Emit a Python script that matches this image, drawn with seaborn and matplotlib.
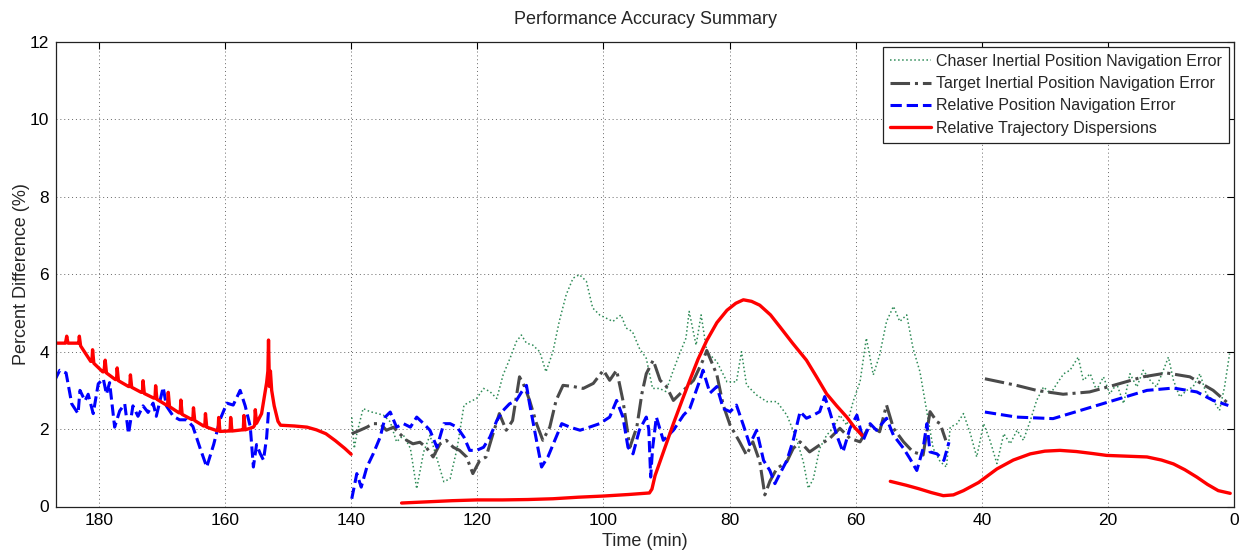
import numpy as np
import pandas as pd
import matplotlib
matplotlib.use("Agg")
import matplotlib.pyplot as plt
from matplotlib.lines import Line2D
import seaborn as sns

# ---------------- data ----------------
series_names = [
    "Chaser Inertial Position Navigation Error",
    "Target Inertial Position Navigation Error",
    "Relative Position Navigation Error",
    "Relative Trajectory Dispersions",
]

# Chaser inertial (green dotted), one segment 140 -> 0
chaser_t = [139.9, 139.5, 139.1, 138.1, 137.0, 136.0, 134.9, 133.8, 132.8, 131.7, 130.6, 129.6, 128.5,
            127.5, 126.4, 125.3, 124.3, 123.2, 122.1, 121.1, 120.1, 119.0, 118.0, 116.9, 115.9, 114.8,
            113.8, 113.0, 112.2, 111.2, 110.1, 109.1, 108.0, 107.0, 105.9, 104.8, 103.8, 102.7, 101.7,
            100.6, 99.6, 98.5, 97.2, 96.4, 95.4, 94.3, 93.2, 92.2, 91.1, 90.1, 89.0, 88.0, 86.9, 86.4,
            85.3, 84.5, 83.6, 82.0, 80.4, 78.9, 78.1, 77.3, 75.7, 74.1, 72.5, 70.9, 69.4, 68.3, 67.5,
            66.7, 65.7, 64.6, 63.6, 62.5, 61.4, 60.4, 59.3, 58.3, 57.2, 56.2, 55.1, 54.0, 53.0, 51.9,
            50.9, 49.8, 48.8, 47.7, 46.6, 45.6, 45.0, 43.9, 42.9, 41.8, 40.8, 39.7, 38.7, 37.6, 36.5,
            35.5, 34.4, 33.4, 32.3, 31.3, 30.2, 29.1, 28.1, 27.0, 26.0, 24.7, 23.9, 22.8, 21.8, 20.7,
            19.7, 18.6, 17.5, 16.5, 15.4, 14.4, 13.3, 12.3, 11.2, 10.4, 9.6, 8.6, 7.5, 6.5, 5.4, 4.4,
            3.3, 2.3, 1.5, 0.7]
chaser_v = [2.30, 1.50, 1.88, 2.53, 2.45, 2.41, 2.36, 2.19, 1.67, 1.84, 1.50, 0.46, 1.41,
            1.84, 1.24, 0.64, 0.72, 1.50, 2.62, 2.71, 2.79, 3.05, 2.97, 2.79, 3.40, 3.83,
            4.26, 4.43, 4.22, 4.17, 4.00, 3.48, 4.00, 4.78, 5.47, 5.90, 5.99, 5.82, 5.13,
            4.95, 4.87, 4.78, 4.95, 4.61, 4.52, 4.09, 3.83, 3.05, 3.05, 2.97, 3.48, 3.91, 4.35, 5.04,
            4.17, 4.95, 4.00, 3.74, 3.22, 3.22, 4.00, 3.14, 2.88, 2.71, 2.71, 2.36, 1.76, 1.16, 0.47,
            0.72, 1.50, 1.84, 2.02, 2.36, 2.10, 2.71, 3.22, 4.35, 3.40, 3.91, 4.78, 5.17, 4.78, 4.95,
            4.09, 3.48, 2.53, 1.50, 1.16, 1.02, 2.05, 2.14, 2.40, 1.88, 1.28, 2.14, 1.71, 1.11, 1.88,
            1.62, 1.97, 1.71, 2.22, 2.74, 3.09, 2.91, 3.17, 3.43, 3.52, 3.86, 3.26, 3.43, 3.00, 3.35,
            2.91, 3.17, 2.66, 3.43, 3.09, 3.52, 3.26, 3.09, 3.52, 3.86, 3.26, 2.83, 3.00, 3.09, 3.43, 2.91,
            2.74, 2.48, 3.09, 3.95]

# Target inertial (gray dash-dot), two segments
target_t1 = [139.9, 138.6, 137.5, 136.5, 135.4, 134.4, 133.3, 132.3, 131.2, 130.2, 129.1, 128.1, 127.0,
             125.9, 124.9, 123.8, 122.8, 121.7, 120.7, 119.6, 118.6, 117.5, 116.5, 115.4, 114.4, 113.3,
             112.5, 111.7, 110.6, 109.6, 108.5, 107.5, 106.4, 104.8, 103.2, 101.6, 100.0, 99.0, 97.9,
             96.9, 95.8, 94.7, 93.9, 93.2, 92.1, 91.0, 90.0, 88.9, 87.3, 85.7, 84.2, 83.6, 82.0, 81.0,
             79.9, 78.4, 77.3, 76.3, 75.2, 74.4, 73.6, 72.5, 70.9, 69.9, 68.8, 67.3, 65.7, 64.1, 62.5,
             60.9, 59.3, 57.7, 56.2, 55.1, 54.0, 52.4, 50.9, 49.3, 48.2, 47.1, 46.6, 45.7]
target_v1 = [1.88, 1.97, 2.05, 2.14, 2.14, 1.97, 2.05, 1.88, 1.71, 1.62, 1.66, 1.53, 1.28,
             1.62, 1.71, 1.53, 1.45, 1.28, 0.85, 1.19, 1.28, 1.88, 2.40, 1.97, 2.22, 3.35,
             3.10, 2.74, 2.14, 1.71, 2.05, 2.74, 3.13, 3.10, 3.05, 3.18, 3.52, 3.26, 3.52,
             2.74, 1.53, 2.05, 2.91, 3.43, 3.78, 3.26, 3.10, 2.74, 3.00, 3.26, 3.78, 4.03, 3.40, 2.62,
             2.10, 1.67, 1.33, 1.67, 1.16, 0.30, 0.65, 0.98, 1.16, 1.50, 1.67, 1.41, 1.59, 1.76, 2.02,
             1.76, 1.67, 2.10, 1.93, 2.62, 2.02, 1.67, 1.41, 1.33, 2.45, 2.19, 2.14, 1.71]
target_t2 = [39.5, 34.5, 31.3, 27.1, 22.9, 19.1, 14.4, 10.7, 7.0, 3.3, 0.9]
target_v2 = [3.30, 3.13, 3.00, 2.90, 2.96, 3.13, 3.35, 3.45, 3.35, 3.00, 2.66]

# Relative position navigation (blue dashed), three segments
rel_t1 = [187.0, 186.2, 185.2, 184.3, 183.3, 183.0, 182.2, 181.7, 180.9, 180.1, 179.3, 178.8, 178.3,
          177.5, 176.7, 175.9, 175.3, 174.6, 173.8, 173.0, 172.2, 171.4, 170.9, 169.8, 169.3, 168.2,
          167.2, 166.1, 165.1, 164.0, 162.9, 161.8, 160.8, 159.7, 158.7, 157.6, 156.8, 156.0, 155.5,
          155.0, 154.4, 153.9, 153.4, 153.1]
rel_v1 = [3.26, 3.52, 3.45, 2.65, 2.40, 3.00, 2.73, 2.90, 2.40, 3.17, 3.30, 2.90, 3.20,
          2.05, 2.47, 2.65, 1.88, 2.60, 2.33, 2.60, 2.43, 2.67, 2.33, 3.08, 2.60, 2.33,
          2.24, 2.24, 2.07, 1.53, 1.02, 1.60, 2.24, 2.67, 2.62, 3.00, 2.60, 2.07, 1.02,
          1.60, 1.36, 1.20, 1.78, 2.47]
rel_t2 = [139.9, 139.1, 138.4, 137.5, 136.5, 135.4, 134.6, 133.8, 132.8, 131.7, 130.6, 129.6, 128.5,
          127.5, 126.4, 125.3, 124.3, 123.2, 122.1, 121.2, 120.1, 119.0, 118.0, 116.9, 115.9, 114.9,
          113.8, 113.0, 112.2, 111.7, 111.2, 110.4, 109.8, 108.8, 107.7, 106.6, 105.3, 103.7, 102.2,
          100.6, 99.0, 97.9, 96.9, 96.1, 95.3, 94.3, 93.2, 92.8, 92.5, 92.2, 91.6, 90.5, 88.9, 87.3,
          86.3, 84.7, 84.2, 83.1, 82.0, 81.0, 79.9, 78.9, 77.8, 76.8, 75.7, 74.6, 73.6, 72.8, 72.0,
          70.9, 69.9, 68.8, 67.8, 66.7, 65.7, 64.9, 64.1, 63.0, 62.0, 60.9, 59.8, 58.8, 57.7, 56.7,
          55.1, 54.0, 52.4, 51.4, 50.3, 49.3, 48.7, 48.2, 47.1, 46.0, 45.2]
rel_v2 = [0.20, 0.85, 0.50, 1.02, 1.36, 1.79, 2.31, 2.44, 2.05, 2.14, 2.05, 2.31, 2.14,
          1.97, 1.53, 2.14, 2.14, 2.05, 1.79, 1.45, 1.45, 1.53, 1.79, 2.22, 2.48, 2.65,
          2.74, 2.95, 3.13, 2.65, 2.22, 1.53, 1.02, 1.28, 1.71, 2.14, 2.05, 1.97, 2.05,
          2.14, 2.31, 2.74, 2.31, 1.53, 1.36, 1.97, 2.31, 2.00, 0.76, 1.50, 2.31, 1.71, 1.97, 2.36,
          2.53, 3.26, 3.52, 2.93, 3.10, 2.53, 2.45, 2.62, 2.10, 1.60, 1.97, 1.19, 0.93, 0.59, 0.85,
          1.19, 1.71, 2.45, 2.28, 2.36, 2.45, 2.84, 2.45, 1.84, 1.41, 2.02, 2.36, 1.71, 2.14, 1.97,
          2.28, 1.84, 1.50, 1.24, 0.93, 1.50, 2.14, 1.41, 1.36, 1.19, 1.66]
rel_t3 = [39.5, 34.5, 28.7, 24.4, 19.1, 13.8, 9.6, 5.9, 3.3, 0.9]
rel_v3 = [2.44, 2.31, 2.27, 2.48, 2.74, 3.00, 3.06, 2.96, 2.74, 2.61]

# Relative trajectory dispersions (red solid), three segments
disp_t1 = [186.8, 185.6, 185.3, 185.1, 184.9, 183.4, 183.2, 183.1, 182.9, 181.3, 181.1, 181.0, 180.8,
           179.4, 179.2, 179.0, 178.8, 177.4, 177.2, 177.1, 176.9, 175.3, 175.1, 175.0, 174.8,
           173.3, 173.1, 173.0, 172.8, 171.3, 171.1, 171.0, 170.8, 169.3, 169.1, 169.0, 168.8,
           167.3, 167.1, 167.0, 166.8, 165.3, 165.1, 165.0, 164.8, 163.4, 163.2, 163.1, 162.9,
           161.3, 161.1, 161.0, 160.8, 159.4, 159.2, 159.1, 158.9, 157.3, 157.1, 157.0, 156.8,
           155.5, 155.3, 155.2, 155.0, 154.2, 153.7, 153.4, 153.2, 153.1, 152.95, 152.8, 152.6,
           152.2, 151.6, 151.2, 149.0, 147.0, 145.5, 144.0, 142.5, 141.0, 140.0]
disp_v1 = [4.22, 4.22, 4.22, 4.40, 4.22, 4.22, 4.22, 4.40, 4.15, 3.75, 3.75, 4.05, 3.70,
           3.48, 3.48, 3.78, 3.45, 3.28, 3.28, 3.58, 3.25, 3.10, 3.10, 3.40, 3.08,
           2.95, 2.95, 3.25, 2.92, 2.80, 2.80, 3.12, 2.77, 2.62, 2.62, 2.95, 2.58,
           2.42, 2.42, 2.75, 2.38, 2.25, 2.25, 2.55, 2.22, 2.08, 2.08, 2.40, 2.05,
           1.96, 1.96, 2.30, 1.94, 1.95, 1.95, 2.30, 1.95, 1.98, 1.98, 2.35, 1.98,
           2.05, 2.10, 2.50, 2.15, 2.40, 2.90, 3.20, 3.50, 4.30, 3.10, 3.50, 3.00,
           2.60, 2.20, 2.10, 2.08, 2.05, 1.98, 1.88, 1.70, 1.50, 1.35]
disp_t2 = [132.0, 128.0, 124.0, 120.0, 116.0, 112.0, 108.0, 104.0, 100.0, 96.0, 92.7, 92.3, 91.8,
           90.5, 88.9, 87.5, 86.3, 85.0, 83.6, 82.0, 80.4, 79.0, 77.8, 76.5, 75.2, 73.5, 72.0,
           70.0, 67.8, 66.2, 64.6, 63.0, 61.4, 60.2, 59.0]
disp_v2 = [0.09, 0.12, 0.15, 0.17, 0.17, 0.18, 0.20, 0.24, 0.27, 0.31, 0.35, 0.45, 0.80,
           1.40, 2.14, 2.75, 3.26, 3.80, 4.29, 4.75, 5.07, 5.25, 5.34, 5.30, 5.20, 4.95, 4.64,
           4.22, 3.78, 3.35, 2.91, 2.60, 2.31, 2.05, 1.84]
disp_t3 = [54.5, 52.0, 50.0, 48.0, 46.1, 44.5, 42.9, 40.5, 37.6, 35.0, 32.3, 30.0, 27.6, 25.0,
           22.5, 20.2, 17.0, 13.8, 11.5, 9.6, 7.8, 5.9, 4.2, 2.5, 0.6]
disp_v3 = [0.65, 0.55, 0.46, 0.36, 0.28, 0.30, 0.41, 0.62, 0.97, 1.20, 1.36, 1.43, 1.45, 1.42,
           1.37, 1.32, 1.30, 1.28, 1.20, 1.10, 0.95, 0.76, 0.57, 0.41, 0.34]

x_ticks = [180, 160, 140, 120, 100, 80, 60, 40, 20, 0]
y_ticks = [0, 2, 4, 6, 8, 10, 12]


def frame(segments):
    parts = []
    for i, (t, v) in enumerate(segments):
        parts.append(pd.DataFrame({"t": t, "v": v, "seg": i}))
    return pd.concat(parts, ignore_index=True)


chaser_df = frame([(chaser_t, chaser_v)])
target_df = frame([(target_t1, target_v1), (target_t2, target_v2)])
rel_df = frame([(rel_t1, rel_v1), (rel_t2, rel_v2), (rel_t3, rel_v3)])
disp_df = frame([(disp_t1, disp_v1), (disp_t2, disp_v2), (disp_t3, disp_v3)])

# ---------------- style ----------------
sns.set_style("white")
plt.rcParams["font.family"] = ["Liberation Sans", "DejaVu Sans"]
plt.rcParams["xtick.direction"] = "in"
plt.rcParams["ytick.direction"] = "in"

fig = plt.figure(figsize=(12.44, 5.50), dpi=100)
ax = fig.add_axes([56 / 1244, 1 - 506.5 / 550, (1234 - 56) / 1244, (506.5 - 42) / 550])

green = "#2E8B57"
gray = "#4A4A4A"
blue = "#0000FF"
red = "#FF0000"

styles = [
    (chaser_df, green, ":", 1.1),
    (target_df, gray, "-.", 2.2),
    (rel_df, blue, "--", 2.2),
    (disp_df, red, "-", 2.4),
]
for df, col, ls, lw in styles:
    sns.lineplot(data=df, x="t", y="v", units="seg", estimator=None, sort=False,
                 color=col, linestyle=ls, linewidth=lw, ax=ax, legend=False)

ax.set_xlim(186.8, 0)
ax.set_ylim(0, 12)
ax.set_xticks(x_ticks)
ax.set_yticks(y_ticks)
ax.tick_params(axis="both", which="both", labelsize=12.5, length=5, width=0.8,
               top=True, right=True, colors="#000000", pad=5)
ax.grid(True, linestyle=(0, (1, 3)), color="#666666", linewidth=0.7)
for sp in ax.spines.values():
    sp.set_visible(True)
    sp.set_color("#222222")
    sp.set_linewidth(0.9)

ax.set_title("Performance Accuracy Summary", fontsize=13, pad=13)
ax.set_xlabel("Time (min)", fontsize=13, labelpad=3)
ax.set_ylabel("Percent Difference (%)", fontsize=13, labelpad=0)

handles = [Line2D([], [], color=c, linestyle=ls, linewidth=lw) for _, c, ls, lw in styles]
leg = ax.legend(handles, series_names, loc="upper right", fontsize=11.5, frameon=True,
                fancybox=False, framealpha=1, edgecolor="#222222", borderaxespad=0.3,
                handlelength=2.6, handletextpad=0.3, labelspacing=0.45, borderpad=0.45)
leg.get_frame().set_linewidth(0.9)

fig.savefig("out.png", dpi=100)
